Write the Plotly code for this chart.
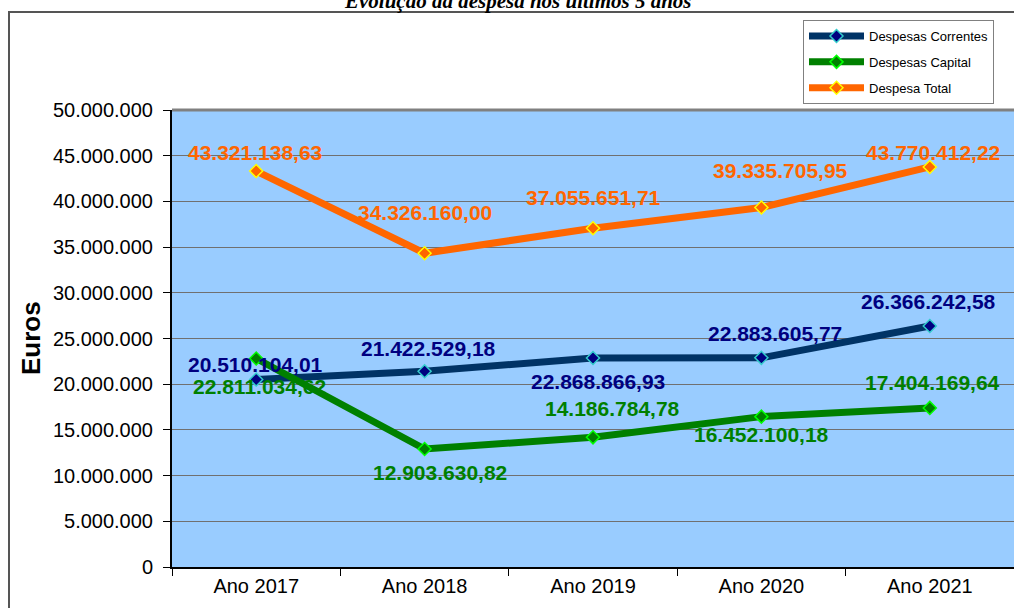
import plotly.graph_objects as go

categories = ["Ano 2017", "Ano 2018", "Ano 2019", "Ano 2020", "Ano 2021"]
correntes = [20510104.01, 21422529.18, 22868866.93, 22883605.77, 26366242.58]
capital = [22811034.62, 12903630.82, 14186784.78, 16452100.18, 17404169.64]
total = [43321138.63, 34326160.00, 37055651.71, 39335705.95, 43770412.22]

# label offsets in pixels (x right, y up) relative to each point
dx_correntes = [-1, 4, 5, 14, -1]
dy_correntes = [15, 23, -24, 24, 25]
dx_capital = [3, 15, 19, 0, 3]
dy_capital = [-28, -23, 29, -18, 25]
dx_total = [-1, 0, 0, 19, 3]
dy_total = [19, 41, 31, 37, 14]


def fmt(v):
    s = f"{v:,.2f}"
    return s.replace(",", "X").replace(".", ",").replace("X", ".")


W, H = 1014, 608
L, R, T, B = 172, 0, 110, 41
PW, PH = W - L - R, H - T - B


def px(x):
    return (x - L) / PW


def py(y):
    return (H - B - y) / PH


fig = go.Figure()

series = [
    ("Despesas Correntes", correntes, "#003366", "#000080", "#33CCCC", "#000080", dx_correntes, dy_correntes),
    ("Despesas Capital", capital, "#008000", "#008000", "#00FF00", "#008000", dx_capital, dy_capital),
    ("Despesa Total", total, "#FF6600", "#FF6600", "#FFFF00", "#FF6600", dx_total, dy_total),
]

annotations = []
for name, vals, lc, mfill, mline, tcolor, dxs, dys in series:
    fig.add_trace(go.Scatter(
        x=categories, y=vals, name=name, legendgroup=name,
        mode="lines+markers",
        line=dict(color=lc, width=7),
        marker=dict(symbol="diamond", size=10, color=mfill, line=dict(color=mline, width=1.5)),
        cliponaxis=False,
    ))
    for c, v, dx, dy in zip(categories, vals, dxs, dys):
        annotations.append(dict(
            x=c, y=v, xref="x", yref="y", text="<b>" + fmt(v) + "</b>",
            showarrow=False, xanchor="center", yanchor="middle",
            xshift=dx, yshift=dy,
            font=dict(family="Liberation Sans, Arial", size=21, color=tcolor),
        ))

annotations += [
    dict(text="<b><i>Evolução da despesa nos últimos 5 anos</i></b>",
         xref="paper", yref="paper", x=px(518), y=py(1),
         xanchor="center", yanchor="middle", showarrow=False,
         font=dict(family="Liberation Serif, Times New Roman", size=21, color="black")),
    dict(text="<b>Euros</b>", textangle=-90,
         xref="paper", yref="paper", x=px(31), y=py(338),
         xanchor="center", yanchor="middle", showarrow=False,
         font=dict(size=26, color="black")),
]

fig.update_layout(
    width=W, height=H,
    margin=dict(l=L, r=R, t=T, b=B, pad=0),
    paper_bgcolor="white",
    plot_bgcolor="#99CCFF",
    separators=",.",
    font=dict(family="Liberation Sans, Arial", color="black"),
    showlegend=True,
    hovermode=False,
    legend=dict(
        x=px(803), y=py(20), xanchor="left", yanchor="top",
        bgcolor="white", bordercolor="#808080", borderwidth=1,
        font=dict(size=13, color="black"),
        tracegroupgap=6, itemwidth=55,
    ),
    xaxis=dict(
        range=[-0.5, 4.5], showgrid=False,
        showline=True, linecolor="black", linewidth=2,
        ticks="outside", ticklen=7, tickcolor="black", tickson="boundaries",
        tickfont=dict(size=20, color="black"),
        fixedrange=True,
    ),
    yaxis=dict(
        range=[0, 50000000], dtick=5000000, tickformat=",d",
        showgrid=True, gridcolor="#707070", gridwidth=1,
        showline=True, linecolor="black", linewidth=2,
        ticks="outside", ticklen=7, tickcolor="black",
        tickfont=dict(size=20, color="black"),
        ticklabelstandoff=6,
        zeroline=False, fixedrange=True,
    ),
    shapes=[
        dict(type="rect", xref="paper", yref="paper",
             x0=px(9), x1=px(1030), y0=py(640), y1=py(12),
             line=dict(color="#555555", width=2), fillcolor="rgba(0,0,0,0)", layer="below"),
        dict(type="line", xref="paper", yref="paper",
             x0=0, x1=1, y0=1, y1=1, line=dict(color="#808080", width=3)),
    ],
    annotations=annotations,
)

fig.write_html(
    "out.html",
    config={"displayModeBar": False},
    post_script="document.body.style.margin='0px';document.body.style.overflow='hidden';",
)
